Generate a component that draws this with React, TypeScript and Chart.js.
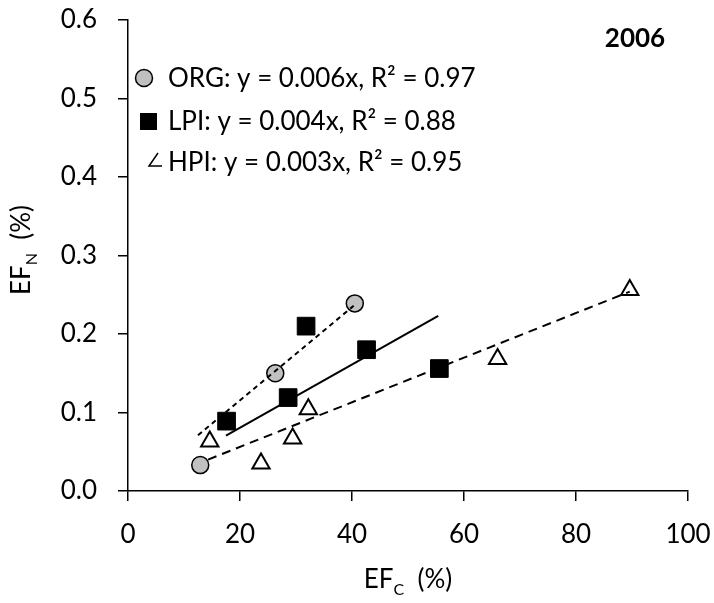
import React, { useEffect, useRef } from 'react';
import { Chart, registerables } from 'chart.js';

Chart.register(...registerables);

// ---- data ----
const orgX = [12.9, 26.3, 40.5];
const orgY = [0.033, 0.15, 0.239];
const lpiX = [17.6, 28.6, 31.8, 42.6, 55.6];
const lpiY = [0.089, 0.119, 0.21, 0.18, 0.156];
const hpiX = [14.6, 23.75, 29.4, 32.2, 66.0, 89.6];
const hpiY = [0.063, 0.035, 0.067, 0.104, 0.168, 0.256];

// fitted regression line end points
const orgFitX = [12.5, 40.3];
const orgFitY = [0.071, 0.236];
const lpiFitX = [17.5, 55.4];
const lpiFitY = [0.0705, 0.223];
const hpiFitX = [14.3, 89.6];
const hpiFitY = [0.04, 0.254];

const xTicks = [0, 20, 40, 60, 80, 100];
const yTicks = [0, 0.1, 0.2, 0.3, 0.4, 0.5, 0.6];

const yearLabel = '2006';
const legendOrg = 'ORG: y = 0.006x, R² = 0.97';
const legendLpi = 'LPI: y = 0.004x, R² = 0.88';
const legendHpi = 'HPI: y = 0.003x, R² = 0.95';

const FONT = 'Lato';
const W = 714;
const H = 603;

const pts = (xs: number[], ys: number[]) => xs.map((x, i) => ({ x, y: ys[i] }));

const textPlugin = {
  id: 'textPlugin',
  afterDatasetsDraw(chart: any) {
    const ctx: CanvasRenderingContext2D = chart.ctx;
    ctx.save();
    ctx.fillStyle = '#000';
    ctx.strokeStyle = '#000';

    // year
    ctx.font = `bold 26px ${FONT}`;
    ctx.textAlign = 'center';
    ctx.textBaseline = 'middle';
    ctx.fillText(yearLabel, 635, 39);

    // legend
    ctx.textAlign = 'left';
    ctx.textBaseline = 'alphabetic';
    ctx.font = `26px ${FONT}`;
    // ORG marker
    ctx.beginPath();
    ctx.arc(144, 78, 8.5, 0, Math.PI * 2);
    ctx.fillStyle = '#c0c0c0';
    ctx.fill();
    ctx.lineWidth = 1.5;
    ctx.strokeStyle = '#000';
    ctx.stroke();
    ctx.fillStyle = '#000';
    ctx.fillText(legendOrg, 168, 87);
    // LPI marker
    ctx.fillRect(140, 113, 17, 17);
    ctx.fillText(legendLpi, 168, 130);
    // HPI marker (partially hidden triangle)
    ctx.beginPath();
    ctx.lineWidth = 1.5;
    ctx.moveTo(158, 153);
    ctx.lineTo(149, 166);
    ctx.lineTo(162, 166);
    ctx.stroke();
    ctx.fillText(legendHpi, 168, 171);

    // y axis title
    ctx.save();
    ctx.translate(30, 250);
    ctx.rotate(-Math.PI / 2);
    const mainF = `26px ${FONT}`;
    const subF = `16px ${FONT}`;
    ctx.font = mainF;
    const wEF = ctx.measureText('EF').width;
    const wP = ctx.measureText('  (%)').width;
    ctx.font = subF;
    const wN = ctx.measureText('N').width;
    let sx = -(wEF + wN + wP) / 2;
    ctx.font = mainF;
    ctx.fillText('EF', sx, 0);
    sx += wEF;
    ctx.font = subF;
    ctx.fillText('N', sx, 7);
    sx += wN;
    ctx.font = mainF;
    ctx.fillText('  (%)', sx, 0);
    ctx.restore();

    // x axis title
    ctx.font = mainF;
    const xwEF = ctx.measureText('EF').width;
    const xwP = ctx.measureText('  (%)').width;
    ctx.font = subF;
    const xwC = ctx.measureText('C').width;
    let tx = 408 - (xwEF + xwC + xwP) / 2;
    const ty = 588;
    ctx.font = mainF;
    ctx.fillText('EF', tx, ty);
    tx += xwEF;
    ctx.font = subF;
    ctx.fillText('C', tx, ty + 7);
    tx += xwC;
    ctx.font = mainF;
    ctx.fillText('  (%)', tx, ty);

    ctx.restore();
  },
};

export default function App() {
  const ref = useRef<HTMLCanvasElement | null>(null);

  useEffect(() => {
    if (!ref.current) return;
    const chart = new Chart(ref.current, {
      type: 'scatter',
      data: {
        datasets: [
          {
            label: 'ORG fit',
            data: pts(orgFitX, orgFitY),
            showLine: true,
            borderColor: '#000',
            borderWidth: 2,
            borderDash: [5, 4],
            pointRadius: 0,
            fill: false,
          },
          {
            label: 'LPI fit',
            data: pts(lpiFitX, lpiFitY),
            showLine: true,
            borderColor: '#000',
            borderWidth: 2,
            pointRadius: 0,
            fill: false,
          },
          {
            label: 'HPI fit',
            data: pts(hpiFitX, hpiFitY),
            showLine: true,
            borderColor: '#000',
            borderWidth: 2,
            borderDash: [9, 6],
            pointRadius: 0,
            fill: false,
          },
          {
            label: 'ORG',
            data: pts(orgX, orgY),
            pointStyle: 'circle',
            pointRadius: 8.5,
            backgroundColor: '#c0c0c0',
            borderColor: '#000',
            borderWidth: 1.5,
          },
          {
            label: 'LPI',
            data: pts(lpiX, lpiY),
            pointStyle: 'rect',
            pointRadius: 12.5,
            backgroundColor: '#000',
            borderColor: '#000',
            borderWidth: 1,
          },
          {
            label: 'HPI',
            data: pts(hpiX, hpiY),
            pointStyle: 'triangle',
            pointRadius: 10,
            backgroundColor: '#fff',
            borderColor: '#000',
            borderWidth: 2,
          },
        ],
      } as any,
      options: {
        animation: false,
        responsive: false,
        maintainAspectRatio: false,
        layout: { padding: { top: 20, right: 26, left: 0, bottom: 0 } },
        plugins: {
          legend: { display: false },
          tooltip: { enabled: false },
        },
        scales: {
          x: {
            type: 'linear',
            min: 0,
            max: 100,
            afterBuildTicks: (s: any) => {
              s.ticks = xTicks.map((v) => ({ value: v }));
            },
            afterFit: (s: any) => {
              s.height = H - 491;
              s.paddingLeft = 0;
              s.paddingRight = 0;
            },
            ticks: {
              color: '#000',
              font: { family: FONT, size: 26 },
              padding: 18,
              maxRotation: 0,
              autoSkip: false,
            },
            grid: {
              display: true,
              drawOnChartArea: false,
              drawTicks: true,
              tickLength: 10,
              color: '#000',
              lineWidth: 1.5,
            },
            border: { display: true, color: '#000', width: 1.5 },
          },
          y: {
            type: 'linear',
            min: 0,
            max: 0.6,
            afterBuildTicks: (s: any) => {
              s.ticks = yTicks.map((v) => ({ value: v }));
            },
            afterFit: (s: any) => {
              s.width = 128;
              s.paddingTop = 0;
              s.paddingBottom = 0;
            },
            ticks: {
              color: '#000',
              font: { family: FONT, size: 26 },
              padding: 21,
              autoSkip: false,
              callback: (v: any) => Number(v).toFixed(1),
            },
            grid: {
              display: true,
              drawOnChartArea: false,
              drawTicks: true,
              tickLength: 10,
              color: '#000',
              lineWidth: 1.5,
            },
            border: { display: true, color: '#000', width: 1.5 },
          },
        },
      } as any,
      plugins: [textPlugin],
    });
    return () => chart.destroy();
  }, []);

  return (
    <div style={{ position: 'fixed', left: 0, top: 0, width: W, height: H, background: '#fff' }}>
      <canvas ref={ref} width={W} height={H} style={{ width: W, height: H, display: 'block' }} />
    </div>
  );
}
